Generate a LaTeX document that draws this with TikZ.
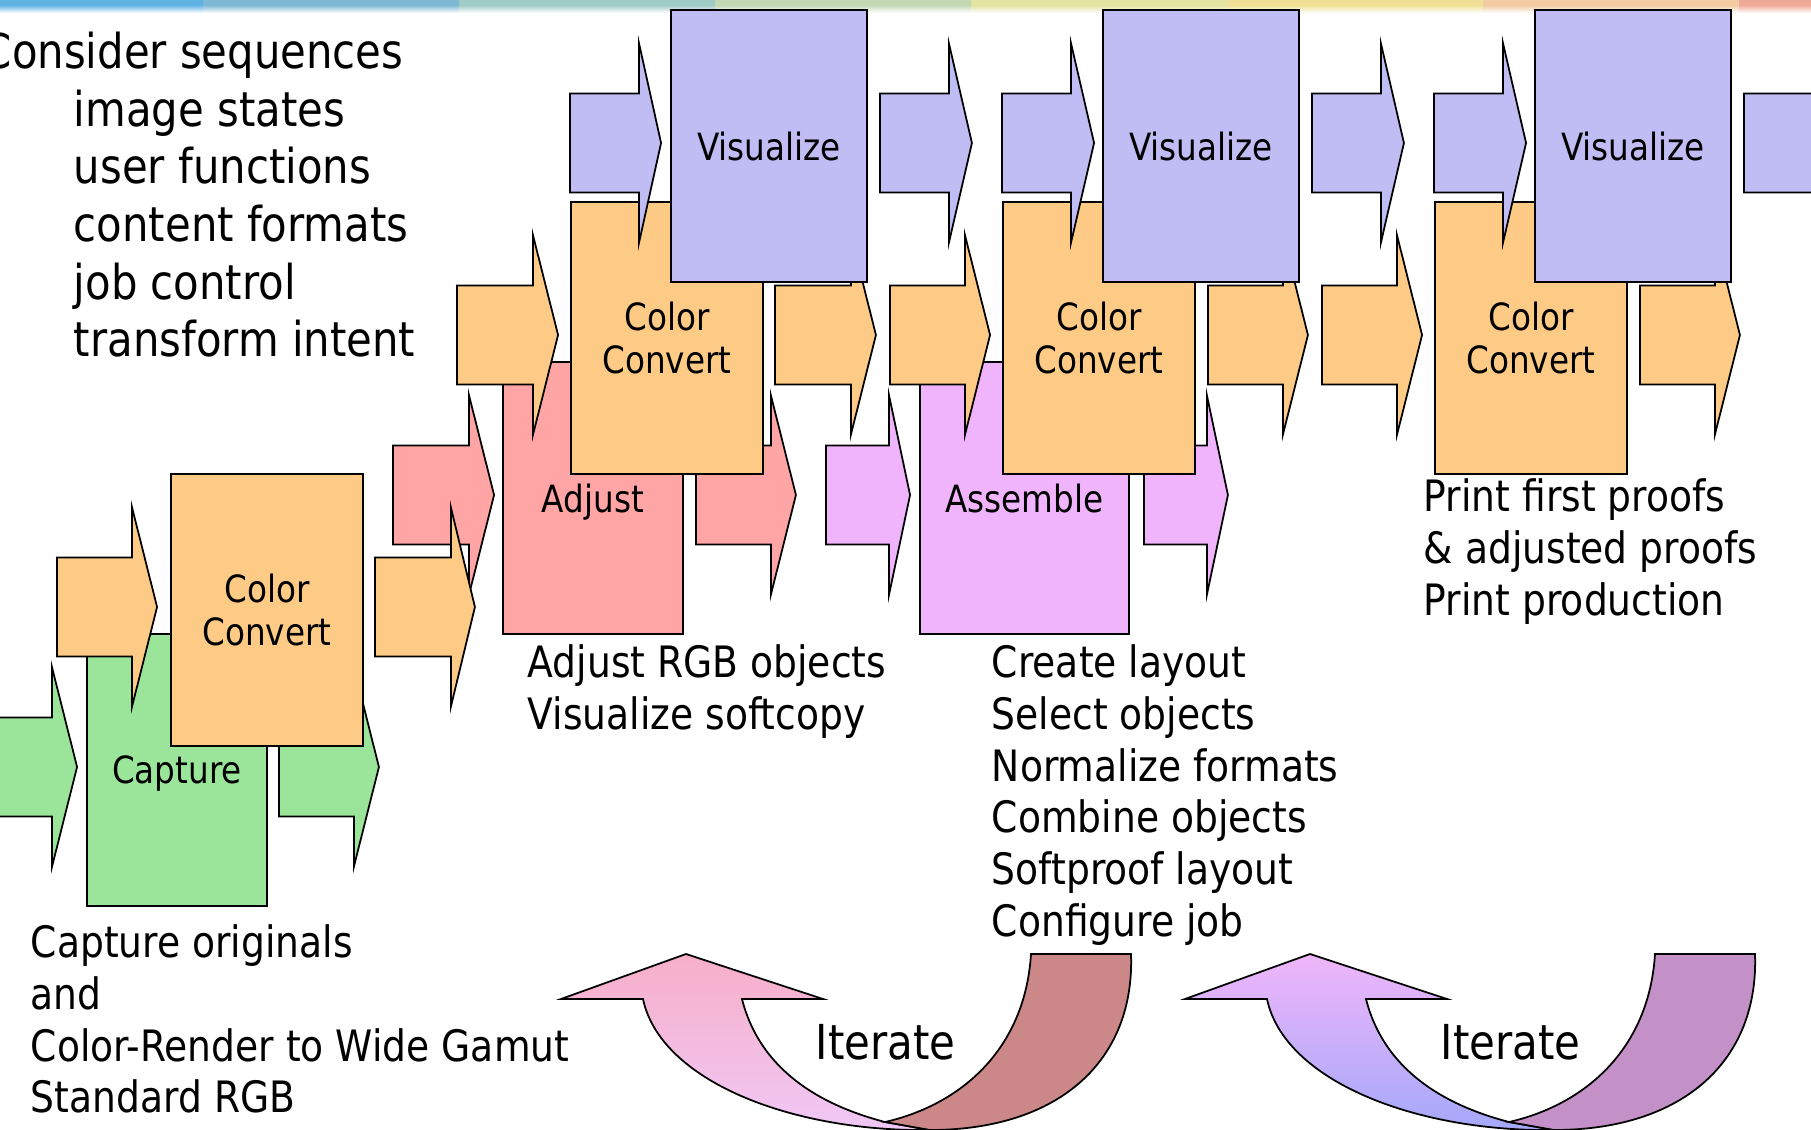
\documentclass[tikz,border=0pt]{standalone}
\usepackage{fontspec}
\setmainfont{DejaVu Sans}[FakeStretch=0.87]
\usepackage{tikz}
\usetikzlibrary{calc}

\definecolor{band1}{HTML}{5EB3E4}
\definecolor{band2}{HTML}{7DB8D4}
\definecolor{band3}{HTML}{A0CCC6}
\definecolor{band4}{HTML}{C4D8B6}
\definecolor{band5}{HTML}{E3E3A2}
\definecolor{band6}{HTML}{F0E096}
\definecolor{band7}{HTML}{F2CBA0}
\definecolor{band8}{HTML}{F0A898}
\definecolor{capgreen}{HTML}{9AE59A}
\definecolor{convorange}{HTML}{FDCB86}
\definecolor{adjpink}{HTML}{FFA5A5}
\definecolor{asmviolet}{HTML}{F0B4FC}
\definecolor{vislilac}{HTML}{C0BCF4}
\definecolor{loopApink}{HTML}{F7AFC8}
\definecolor{loopAlilac}{HTML}{F0C8F6}
\definecolor{loopArose}{HTML}{CC8888}
\definecolor{loopBpink}{HTML}{F0B6FA}
\definecolor{loopBblue}{HTML}{A4A8FA}
\definecolor{loopBplum}{HTML}{C490C8}

% block arrow: tip, shaft length, head length, fill
\newcommand{\blockarrow}[4]{%
  \draw[fill=#4] #1 -- ++(-#3,-99.5) -- ++(0,50) -- ++(-#2,0) -- ++(0,99) -- ++(#2,0) -- ++(0,50) -- cycle;}

% curved iterate arrow: apex, head top/bottom colours, tail colour
\newcommand{\iteratearrow}[4]{%
  \begin{scope}[shift={#1}]
    \draw[top color=#2, bottom color=#3] (0,0) -- (137,45) -- (56,45)
      .. controls (74,116) and (134,151) .. (199,168) -- (244,176)
      .. controls (104,178) and (-26,126) .. (-43,45) -- (-125,45) -- cycle;
    \draw[fill=#4] (345,0) -- (445,0) .. controls (449,106) and (374,176) .. (244,176)
      -- (199,168) .. controls (274,151) and (339,96) .. (345,0) -- cycle;
  \end{scope}}

\begin{document}
\begin{tikzpicture}[x=0.01cm, y=-0.01cm, line width=0.5pt,
    box/.style={draw, rectangle, inner sep=0pt, align=center, minimum height=2.72cm, font=\fontsize{10.67}{12.5}\selectfont},
    oneline/.style={text depth=0pt},
    note/.style={anchor=north west, align=left, inner sep=0pt, font=\fontsize{12.3}{14.7}\selectfont},
    iterlabel/.style={anchor=base west, inner sep=0pt, font=\fontsize{13.7}{16}\selectfont}]
    \useasboundingbox (0,0) rectangle (1811,1130);

    % Title band
    \foreach \c [count=\i from 0] in {band1,band2,band3,band4,band5,band6,band7,band8} {
        \fill[\c] ({-53+256*\i},0) rectangle ++(256,5);
        \shade[top color=\c, bottom color=white] ({-53+256*\i},5) rectangle ++(256,8);
    }

    % Capture
    \node[box, oneline, fill=capgreen, minimum width=1.8cm] (capture) at (177,770) {Capture};
    \blockarrow{($(capture.west)+(-9,-3)$)}{75}{25}{capgreen}
    \blockarrow{($(capture.east)+(111,-3)$)}{75}{25}{capgreen}

    % Adjust and Assemble
    \node[box, oneline, fill=adjpink, minimum width=1.8cm] (adjust) at (593,498) {Adjust};
    \blockarrow{($(adjust.west)+(-8,-3)$)}{76}{25}{adjpink}
    \blockarrow{($(adjust.east)+(112,-3)$)}{75}{25}{adjpink}
    \node[box, oneline, fill=asmviolet, minimum width=2.09cm] (assemble) at (1024.5,498) {Assemble};
    \blockarrow{($(assemble.west)+(-9,-3)$)}{63}{21}{asmviolet}
    \blockarrow{($(assemble.east)+(98,-3)$)}{63}{21}{asmviolet}

    % Color Convert
    \node[box, fill=convorange, minimum width=1.92cm] (conv1) at (267,610) {Color\\Convert};
    \blockarrow{($(conv1.west)+(-13,-3)$)}{75}{25}{convorange}
    \blockarrow{($(conv1.east)+(111,-3)$)}{76}{24}{convorange}
    \node[box, fill=convorange, minimum width=1.92cm] (conv2) at (667,338) {Color\\Convert};
    \blockarrow{($(conv2.west)+(-12,-3)$)}{76}{25}{convorange}
    \blockarrow{($(conv2.east)+(112,-3)$)}{76}{25}{convorange}
    \node[box, fill=convorange, minimum width=1.92cm] (conv3) at (1099,338) {Color\\Convert};
    \blockarrow{($(conv3.west)+(-12,-3)$)}{75}{25}{convorange}
    \blockarrow{($(conv3.east)+(112,-3)$)}{75}{25}{convorange}
    \node[box, fill=convorange, minimum width=1.92cm] (conv4) at (1531,338) {Color\\Convert};
    \blockarrow{($(conv4.west)+(-12,-3)$)}{75}{25}{convorange}
    \blockarrow{($(conv4.east)+(112,-3)$)}{75}{25}{convorange}

    % Visualize
    \node[box, oneline, fill=vislilac, minimum width=1.96cm] (vis1) at (769,146) {Visualize};
    \blockarrow{($(vis1.west)+(-9,-3)$)}{69}{22}{vislilac}
    \blockarrow{($(vis1.east)+(104,-3)$)}{69}{23}{vislilac}
    \node[box, oneline, fill=vislilac, minimum width=1.96cm] (vis2) at (1201,146) {Visualize};
    \blockarrow{($(vis2.west)+(-8,-3)$)}{69}{23}{vislilac}
    \blockarrow{($(vis2.east)+(104,-3)$)}{69}{23}{vislilac}
    \node[box, oneline, fill=vislilac, minimum width=1.96cm] (vis3) at (1633,146) {Visualize};
    \blockarrow{($(vis3.west)+(-8,-3)$)}{69}{23}{vislilac}
    \blockarrow{($(vis3.east)+(104,-3)$)}{69}{23}{vislilac}

    % Notes
    \node[note, font=\fontsize{13.66}{16.4}\selectfont] (consider) at (-18,31)
        {Consider sequences\\\hspace*{0.91cm}image states\\\hspace*{0.91cm}user functions\\\hspace*{0.91cm}content formats\\\hspace*{0.91cm}job control\\\hspace*{0.91cm}transform intent};
    \node[note] (capnote) at (30,924) {Capture originals\\and\\Color-Render to Wide Gamut\\Standard RGB};
    \node[note] (adjnote) at (527,644) {Adjust RGB objects\\Visualize softcopy};
    \node[note] (asmnote) at (991,644) {Create layout\\Select objects\\Normalize formats\\Combine objects\\Softproof layout\\Configure job};
    \node[note] (printnote) at (1423,478) {Print first proofs\\\& adjusted proofs\\Print production};

    % Iterate
    \coordinate (loop1) at (686,954);
    \coordinate (loop2) at (1310,954);
    \iteratearrow{(loop1)}{loopApink}{loopAlilac}{loopArose}
    \iteratearrow{(loop2)}{loopBpink}{loopBblue}{loopBplum}
    \node[iterlabel] (iter1) at (815,1059) {Iterate};
    \node[iterlabel] (iter2) at (1440,1059) {Iterate};
\end{tikzpicture}
\end{document}
